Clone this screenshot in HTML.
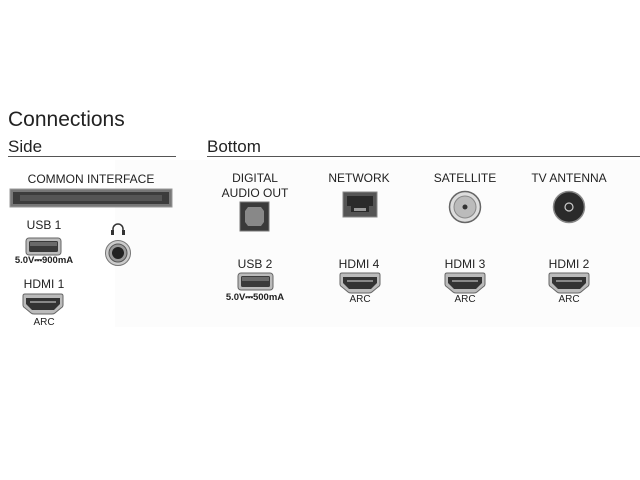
<!DOCTYPE html>
<html><head><meta charset="utf-8"><style>
html,body{margin:0;padding:0;background:#fff;width:640px;height:480px;overflow:hidden}
svg{display:block}
text{font-family:"Liberation Sans",sans-serif;fill:#222}
</style></head><body>
<svg width="640" height="480" viewBox="0 0 640 480" xmlns="http://www.w3.org/2000/svg">
<defs>
<g id="usb"><rect x="0" y="0" width="35" height="17" rx="3" fill="#bbb" stroke="#666" stroke-width="1"/><rect x="3" y="3" width="29" height="11" rx="1.5" fill="#3a3a3a"/><rect x="4" y="4" width="27" height="4" fill="#6a6a6a"/></g>
<g id="hdmi"><path d="M1,2 Q1,0 3,0 H39 Q41,0 41,2 V11 Q41,13 39,14 L33,19 Q32,20 30,20 H12 Q10,20 9,19 L3,14 Q1,13 1,11 Z" fill="#bbb" stroke="#666" stroke-width="1"/><path d="M4,4 H38 V10 L32,16 H10 L4,10 Z" fill="#333"/><rect x="8" y="7" width="26" height="2" fill="#888"/></g>
</defs>
<rect x="115" y="160" width="525" height="167" fill="#fcfcfc"/>
<text x="8" y="126" font-size="21" fill="#333">Connections</text>
<text x="8" y="152" font-size="17" fill="#333">Side</text>
<line x1="8" y1="156.5" x2="176" y2="156.5" stroke="#555" stroke-width="1"/>
<text x="207" y="152" font-size="17" fill="#333">Bottom</text>
<line x1="207" y1="156.5" x2="640" y2="156.5" stroke="#555" stroke-width="1"/>

<text x="91" y="183" font-size="12" text-anchor="middle">COMMON INTERFACE</text>
<rect x="10" y="189" width="162" height="18" fill="#777" stroke="#999"/>
<rect x="13" y="192" width="156" height="12" fill="#3c3c3c"/>
<rect x="20" y="195" width="142" height="6" fill="#555"/>

<text x="44" y="229" font-size="12" text-anchor="middle">USB 1</text>
<use href="#usb" x="26" y="238"/>
<text x="44" y="263" font-size="9.5" font-weight="bold" text-anchor="middle">5.0V⎓900mA</text>

<path d="M113,233 V229 A5,5 0 0 1 123,229 V233" fill="none" stroke="#333" stroke-width="1.5"/>
<rect x="111" y="230" width="3" height="5" fill="#333"/><rect x="122" y="230" width="3" height="5" fill="#333"/>
<circle cx="118" cy="253" r="12.5" fill="#ccc" stroke="#777"/>
<circle cx="118" cy="253" r="9" fill="#999" stroke="#555"/>
<circle cx="118" cy="253" r="6" fill="#222"/>

<text x="44" y="288" font-size="12" text-anchor="middle">HDMI 1</text>
<use href="#hdmi" x="22" y="294"/>
<text x="44" y="325" font-size="10" text-anchor="middle">ARC</text>

<text x="255" y="182" font-size="12" text-anchor="middle">DIGITAL</text>
<text x="255" y="197" font-size="12" text-anchor="middle">AUDIO OUT</text>
<rect x="240" y="202" width="29" height="29" fill="#3a3a3a" stroke="#777"/>
<path d="M248,207 H261 L264,211 V222 L261,226 H248 L245,222 V211 Z" fill="#888"/>

<text x="359" y="182" font-size="12" text-anchor="middle">NETWORK</text>
<rect x="343" y="192" width="34" height="25" fill="#555" stroke="#888"/>
<path d="M347,196 H373 V206 H369 V212 H351 V206 H347 Z" fill="#2a2a2a"/>
<rect x="354" y="208" width="12" height="3" fill="#999"/>

<text x="465" y="182" font-size="12" text-anchor="middle">SATELLITE</text>
<circle cx="465" cy="207" r="15.5" fill="#ddd" stroke="#666" stroke-width="1.5"/>
<circle cx="465" cy="207" r="11" fill="#bbb" stroke="#888"/>
<circle cx="465" cy="207" r="2.5" fill="#333"/>

<text x="569" y="182" font-size="12" text-anchor="middle">TV ANTENNA</text>
<circle cx="569" cy="207" r="15.5" fill="#2a2a2a" stroke="#888" stroke-width="1.5"/>
<circle cx="569" cy="207" r="4" fill="none" stroke="#ccc" stroke-width="1.2"/>

<text x="255" y="268" font-size="12" text-anchor="middle">USB 2</text>
<use href="#usb" x="238" y="273"/>
<text x="255" y="300" font-size="9.5" font-weight="bold" text-anchor="middle">5.0V⎓500mA</text>

<text x="359" y="268" font-size="12" text-anchor="middle">HDMI 4</text>
<use href="#hdmi" x="339" y="273"/>
<text x="360" y="302" font-size="10" text-anchor="middle">ARC</text>

<text x="465" y="268" font-size="12" text-anchor="middle">HDMI 3</text>
<use href="#hdmi" x="444" y="273"/>
<text x="465" y="302" font-size="10" text-anchor="middle">ARC</text>

<text x="569" y="268" font-size="12" text-anchor="middle">HDMI 2</text>
<use href="#hdmi" x="548" y="273"/>
<text x="569" y="302" font-size="10" text-anchor="middle">ARC</text>
</svg>
</body></html>
